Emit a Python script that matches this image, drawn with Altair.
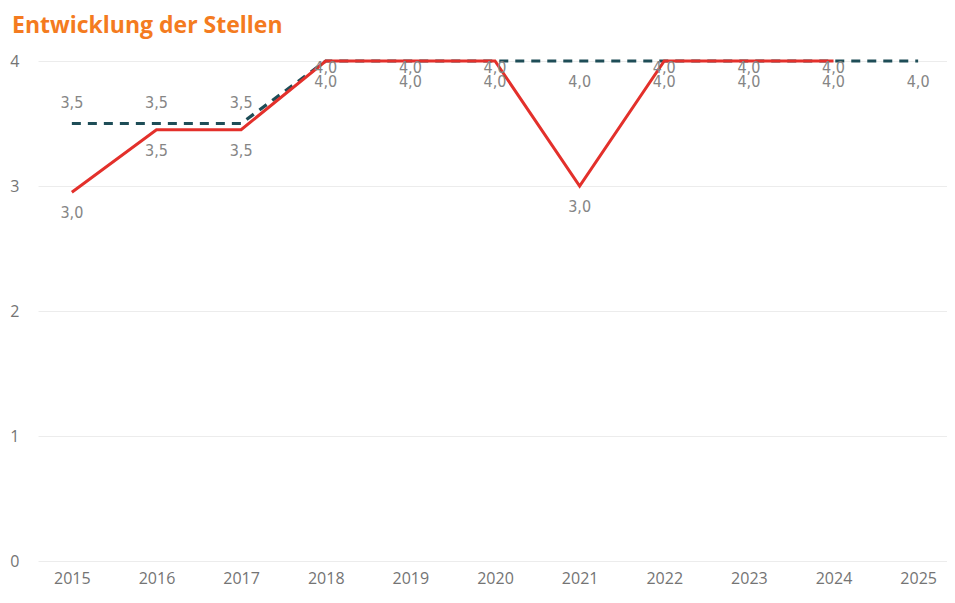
import altair as alt
import pandas as pd

years = ["2015", "2016", "2017", "2018", "2019", "2020", "2021", "2022", "2023", "2024", "2025"]
ist = [2.95, 3.45, 3.45, 4.0, 4.0, 4.0, 3.0, 4.0, 4.0, 4.0, None]
soll = [3.5, 3.5, 3.5, 4.0, 4.0, 4.0, 4.0, 4.0, 4.0, 4.0, 4.0]

rows = []
for y, v in zip(years, ist):
    if v is not None:
        rows.append({"Jahr": y, "Reihe": "Ist", "Wert": v})
for y, v in zip(years, soll):
    rows.append({"Jahr": y, "Reihe": "Soll", "Wert": v})
df = pd.DataFrame(rows)

RED = "#E3302B"
TEAL = "#1E4D57"
LABEL = "#858585"
LFONT = "DejaVu Sans Condensed"

xenc = alt.X("Jahr:O", scale=alt.Scale(type="point", padding=0.4),
             axis=alt.Axis(title=None, labelAngle=0, domain=False, ticks=False,
                           labelPadding=9, labelFontSize=16, labelColor="#747474",
                           labelFont="Open Sans", grid=False))
yenc = alt.Y("Wert:Q", scale=alt.Scale(domain=[0, 4], nice=False, zero=True),
             axis=alt.Axis(title=None, values=[0, 1, 2, 3, 4], domain=False, ticks=False,
                           labelPadding=19, labelFontSize=16, labelColor="#747474",
                           labelFont="Open Sans", gridColor="#ececec", gridWidth=1))

base = alt.Chart(df).encode(x=xenc, y=yenc).transform_calculate(
    lab="replace(format(datum.Wert, '.1f'), '.', ',')"
)

soll_line = base.transform_filter(alt.datum.Reihe == "Soll").mark_line(
    color=TEAL, strokeWidth=3.2, strokeDash=[9, 7])
ist_line = base.transform_filter(alt.datum.Reihe == "Ist").mark_line(
    color=RED, strokeWidth=3)

def labels(series, cond, dy):
    return base.transform_filter(alt.datum.Reihe == series).transform_filter(cond).mark_text(
        dy=dy, baseline="middle", align="center", font=LFONT, fontSize=16, color=LABEL
    ).encode(text="lab:N")

t1 = labels("Soll", alt.datum.Wert < 3.95, -21)
t2 = labels("Soll", alt.datum.Wert >= 3.95, 21)
t3 = labels("Ist", alt.datum.Wert < 3.95, 21)
t4 = labels("Ist", alt.datum.Wert >= 3.95, 7)

chart = alt.layer(soll_line, ist_line, t1, t2, t3, t4).properties(
    width=914, height=500, autosize="none",
    padding={"left": 30, "top": 53, "right": -5, "bottom": 32},
    title=alt.TitleParams("Entwicklung der Stellen", anchor="start", frame="group",
                          dx=-26, offset=15, fontSize=23, font="Open Sans",
                          fontWeight="bold", color="#F47B20"),
    background="white",
).configure_view(stroke=None)

chart.save("out.html", embed_options={"renderer": "svg", "actions": False})
